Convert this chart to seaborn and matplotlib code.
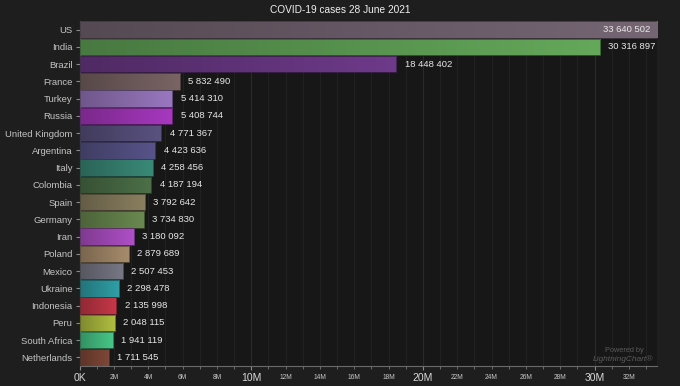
import numpy as np
import pandas as pd
import matplotlib
matplotlib.use("Agg")
import matplotlib.pyplot as plt
import matplotlib.ticker as mticker
from matplotlib.colors import to_rgb
import seaborn as sns

countries = ["US", "India", "Brazil", "France", "Turkey", "Russia", "United Kingdom",
             "Argentina", "Italy", "Colombia", "Spain", "Germany", "Iran", "Poland",
             "Mexico", "Ukraine", "Indonesia", "Peru", "South Africa", "Netherlands"]
cases = [33640502, 30316897, 18448402, 5832490, 5414310, 5408744, 4771367,
         4423636, 4258456, 4187194, 3792642, 3734830, 3180092, 2879689,
         2507453, 2298478, 2135998, 2048115, 1941119, 1711545]
bar_colors = ["#766674", "#64a85a", "#6e3a8a", "#7a6464", "#9a78c0", "#a838c0",
              "#5a5280", "#58548a", "#3a8a78", "#4c7048", "#8a8060", "#6a8a50",
              "#b050c8", "#a88c6c", "#787886", "#30a0a8", "#c83848", "#b0c040",
              "#48c888", "#804838"]
title = "COVID-19 cases 28 June 2021"

df = pd.DataFrame({"country": countries, "cases": cases})

sns.set_theme(style="dark")
plt.rcParams["font.family"] = ["Liberation Sans", "DejaVu Sans"]

fig = plt.figure(figsize=(6.8, 3.86), dpi=100, facecolor="#1e1e1e")
ax = fig.add_axes([79.5 / 680, 20 / 386, (657 - 79.5) / 680, (366 - 21) / 386])
ax.set_facecolor("#171717")

sns.barplot(data=df, y="country", x="cases", hue="country", palette=bar_colors,
            legend=False, orient="h", width=0.96, ax=ax, saturation=1)

xmax = max(cases)
ax.set_xlim(0, xmax)
ylim = ax.get_ylim()

# gradient fills clipped to bars
for patch, col in zip(ax.patches, bar_colors):
    x0, y0 = patch.get_x(), patch.get_y()
    w, h = patch.get_width(), patch.get_height()
    right = np.array(to_rgb(col))
    left = right * 0.72
    grad = np.linspace(0, 1, 256)[None, :, None]
    img = left[None, None, :] * (1 - grad) + right[None, None, :] * grad
    im = ax.imshow(img, extent=[x0, x0 + w, y0 + h, y0], aspect="auto",
                   zorder=2, interpolation="bilinear")
    im.set_clip_path(patch)
    patch.set_edgecolor(tuple(right * 0.55))
    patch.set_linewidth(0.6)
    patch.set_zorder(3)
    patch.set_facecolor("none")

ax.set_xlim(0, xmax)
ax.set_ylim(ylim)

# value labels
for i, v in enumerate(cases):
    txt = f"{v:,}".replace(",", " ")
    if v == xmax:
        ax.text(v - xmax * 0.012, i, txt, ha="right", va="center", color="#e8e8e8",
                fontsize=6.8, zorder=5)
    else:
        ax.annotate(txt, (v, i), xytext=(6, 0), textcoords="offset points",
                    ha="left", va="center", color="#e8e8e8", fontsize=6.8, zorder=5)

# axis formatting
ax.xaxis.set_major_locator(mticker.MultipleLocator(10_000_000))
ax.xaxis.set_minor_locator(mticker.MultipleLocator(1_000_000))

def major_fmt(v, pos):
    return "0K" if v == 0 else f"{int(round(v / 1e6))}M"

def minor_fmt(v, pos):
    m = int(round(v / 1e6))
    if m % 2 == 0 and m % 10 != 0:
        return f"{m}M"
    return ""

ax.xaxis.set_major_formatter(mticker.FuncFormatter(major_fmt))
ax.xaxis.set_minor_formatter(mticker.FuncFormatter(minor_fmt))
ax.tick_params(axis="x", which="major", labelsize=7.5, colors="#d8d8d8", length=3,
               width=0.8, pad=2, bottom=True, color="#888888")
ax.tick_params(axis="x", which="minor", labelsize=4.8, colors="#c8c8c8", length=2.5,
               width=0.6, pad=3.5, bottom=True, color="#777777")
ax.tick_params(axis="y", labelsize=6.8, colors="#c4c4c4", length=3, width=0.8,
               pad=2, left=True, color="#888888")

ax.grid(True, axis="x", which="both", color="#212121", linewidth=0.8, zorder=0)
ax.grid(True, axis="x", which="major", color="#2a2a2a", linewidth=0.8, zorder=0)
ax.grid(False, axis="y")
ax.set_axisbelow(True)
ax.set_xlabel("")
ax.set_ylabel("")

for side in ["top", "right"]:
    ax.spines[side].set_visible(False)
ax.spines["left"].set_color("#6a6a6a")
ax.spines["bottom"].set_color("#6a6a6a")
ax.spines["left"].set_linewidth(0.8)
ax.spines["bottom"].set_linewidth(0.8)

fig.text(0.5, 1 - 10 / 386, title, ha="center", va="center", color="#f0f0f0",
         fontsize=7.3)

# watermark
fig.text(624 / 680, 1 - 350 / 386, "Powered by", ha="center", va="center",
         color="#5a5a5a", fontsize=5.3)
fig.text(623 / 680, 1 - 359 / 386, "LightningChart\u00ae", ha="center", va="center",
         color="#5a5a5a", fontsize=6, style="italic")

fig.savefig("out.png", dpi=100, facecolor=fig.get_facecolor())
